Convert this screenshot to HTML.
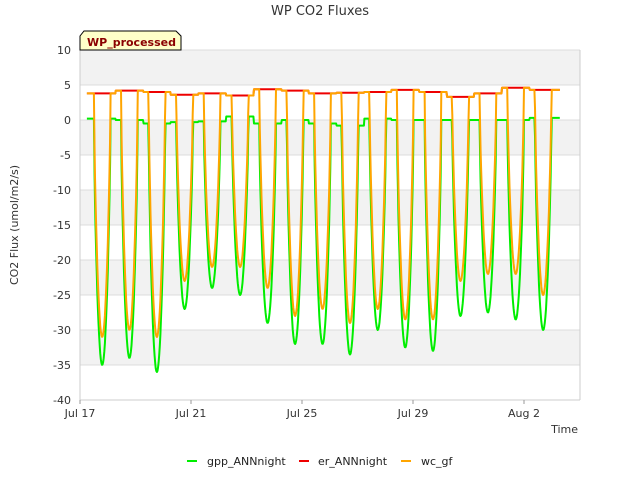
<!DOCTYPE html>
<html><head><meta charset="utf-8">
<style>
body{margin:0;background:#fff;font-family:"Liberation Sans","DejaVu Sans",sans-serif;}
svg text{font-family:"DejaVu Sans","Liberation Sans",sans-serif;}
</style></head>
<body>
<svg id="chart" width="640" height="480" viewBox="0 0 640 480">
<rect width="640" height="480" fill="#fff"/>
<text x="320" y="15" text-anchor="middle" font-size="13" fill="#333">WP CO2 Fluxes</text>
<g id="bands"></g><g id="grid"></g><g id="series"></g><g id="axes"></g>
<g>
<path d="M80,50 L80,36 L84,31 L176,31 L181,36 L181,50 Z" fill="#ffffc8" stroke="#000" stroke-width="1"/>
<text x="87" y="46" font-size="11" font-weight="bold" fill="#8b0000">WP_processed</text>
</g>
<text transform="translate(18,225) rotate(-90)" text-anchor="middle" font-size="11" fill="#333">CO2 Flux (umol/m2/s)</text>
<text x="578" y="433" text-anchor="end" font-size="11" fill="#333">Time</text>
<g>
<g><line x1="187" y1="461" x2="197" y2="461" stroke="#00ee00" stroke-width="2"/><text x="207" y="465" font-size="11" fill="#222">gpp_ANNnight</text></g>
<g><line x1="299" y1="461" x2="309" y2="461" stroke="#ee0000" stroke-width="2"/><text x="318" y="465" font-size="11" fill="#222">er_ANNnight</text></g>
<g><line x1="401" y1="461" x2="411" y2="461" stroke="#ffa500" stroke-width="2"/><text x="421" y="465" font-size="11" fill="#222">wc_gf</text></g>
</g>
</svg>
<script>
// daily data (day index from Jul 17)
const yTicks = [10,5,0,-5,-10,-15,-20,-25,-30,-35,-40];
const xTickDays = [0,4,8,12,16];
const xTickLabels = ["Jul 17","Jul 21","Jul 25","Jul 29","Aug 2"];
const dayPeak = [0.8,1.78,2.77,3.77,4.76,5.77,6.76,7.75,8.74,9.73,10.73,11.72,12.72,13.71,14.7,15.7,16.69];
const gppMin = [-35,-34,-36,-27,-24,-25,-29,-32,-32,-33.5,-30,-32.5,-33,-28,-27.5,-28.5,-30];
const wcMin = [-31,-30,-31,-23,-21,-21,-24,-28,-27,-29,-27,-28.5,-28.5,-23,-22,-22,-25];
const erLevel = [3.8,4.2,4.0,3.6,3.8,3.5,4.4,4.2,3.8,3.9,4.0,4.3,4.0,3.3,3.8,4.6,4.3];
const gppDay = [0.2,0.0,-0.5,-0.3,-0.2,0.5,-0.5,0.0,-0.5,-0.8,0.2,0.0,0.0,0.0,0.0,0.0,0.3];
const tStart = 0.25, tEnd = 17.3;

const X0=80, X1=580, Y0=50, Y1=400, DAYPX=27.75;
const xs = t => X0 + t*DAYPX;
const ys = v => Y0 + (10 - v)*(Y1-Y0)/50;
const NS="http://www.w3.org/2000/svg";
function mk(tag, attrs, parent){const e=document.createElementNS(NS,tag);for(const k in attrs)e.setAttribute(k,attrs[k]);parent.appendChild(e);return e;}

const bands=document.getElementById('bands'), grid=document.getElementById('grid'), axes=document.getElementById('axes'), series=document.getElementById('series');
mk('rect',{x:X0,y:Y0,width:X1-X0,height:Y1-Y0,fill:'#fff'},bands);
for(let i=0;i<yTicks.length-1;i+=2){
  const r=mk('rect',{x:X0,y:ys(yTicks[i]),width:X1-X0,height:ys(yTicks[i+1])-ys(yTicks[i]),fill:'#f2f2f2'},bands);
  
  
}
yTicks.forEach(v=>{
  const l=mk('line',{x1:X0,x2:X1,y1:ys(v),y2:ys(v),stroke:'#dcdcdc','stroke-width':1},grid);
  
  
  const t=mk('text',{x:X0-9,y:ys(v)+4,'text-anchor':'end','font-size':11,fill:'#333'},axes);
  t.textContent=v;
  
  
});
mk('line',{x1:X0,x2:X0,y1:Y0,y2:Y1,stroke:'#ccc'},axes);
mk('line',{x1:X1,x2:X1,y1:Y0,y2:Y1,stroke:'#ccc'},axes);
mk('line',{x1:X0,x2:X1,y1:Y1,y2:Y1,stroke:'#ccc'},axes);
xTickDays.forEach((d,i)=>{
  mk('line',{x1:xs(d),x2:xs(d),y1:Y1,y2:Y1+4,stroke:'#999'},axes);
  const t=mk('text',{x:xs(d),y:Y1+17,'text-anchor':'middle','font-size':11,fill:'#333'},axes);
  t.textContent=xTickLabels[i];
  
  
});

function dayIndex(t){let b=0,bd=1e9;dayPeak.forEach((p,i)=>{const d=Math.abs(t-p);if(d<bd){bd=d;b=i;}});return b;}
function shape(t){const k=dayIndex(t);const p=t-dayPeak[k];const w=0.3;if(Math.abs(p)>=w)return [k,0];const c=Math.cos(Math.PI/2*p/w);return [k,Math.pow(c,0.7)];}
function build(fn){const pts=[];for(let t=tStart;t<=tEnd;t+=1/48){pts.push(xs(t).toFixed(1)+','+ys(fn(t)).toFixed(1));}return pts.join(' ');}
const gppPts=build(t=>{const [k,s]=shape(t);return gppDay[k]*(1-s)+gppMin[k]*s;});
const erPts=build(t=>{const [k]=shape(t);return erLevel[k];});
const wcPts=build(t=>{const [k,s]=shape(t);return erLevel[k]*(1-s)+wcMin[k]*s;});
[[gppPts,'#00ee00','gpp-line'],[erPts,'#ee0000','er-line'],[wcPts,'#ffa500','wc-line']].forEach(([p,c,n])=>{
  const l=mk('polyline',{points:p,fill:'none',stroke:c,'stroke-width':2,'stroke-linejoin':'round'},series);
  
  
});
</script>
</body></html>
